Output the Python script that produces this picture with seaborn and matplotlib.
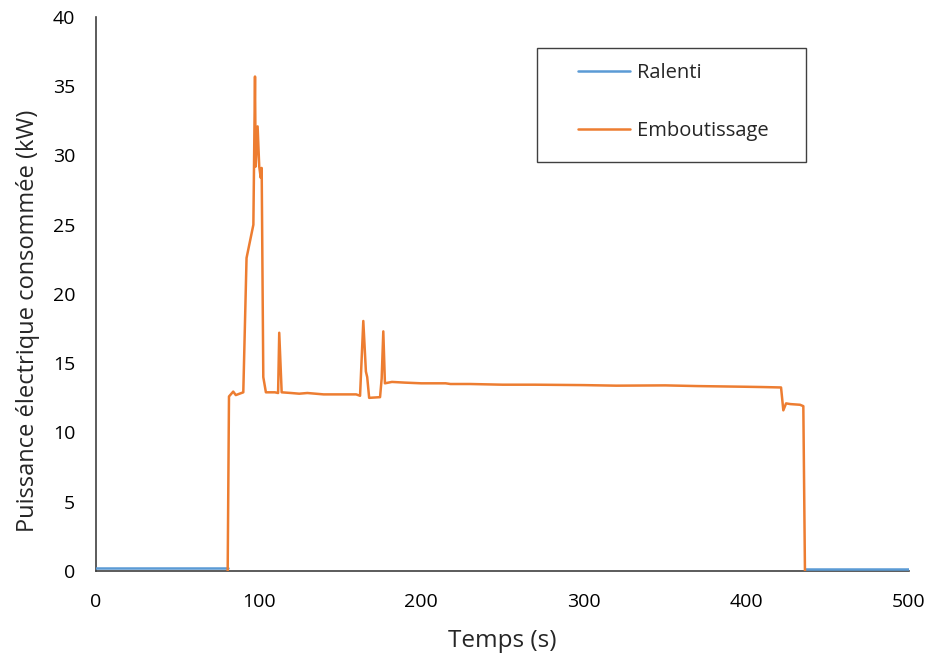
import numpy as np
import matplotlib.pyplot as plt
import seaborn as sns
import pandas as pd
from matplotlib.patches import Rectangle

# Ralenti (idle) - two segments, before and after stamping
ralenti_t1 = [0, 81]
ralenti_p1 = [0.2, 0.2]
ralenti_t2 = [436, 500]
ralenti_p2 = [0.12, 0.12]

# Emboutissage (stamping)
embout_t = [81, 81.8, 84.4, 86, 90.6, 92.6, 96.8, 97.8, 98.2, 99.4, 100.4, 101.3, 101.9,
            102.9, 104.5, 110, 112.0, 112.7, 114.2, 120, 125, 130, 140, 150, 160, 162.4,
            164.4, 166, 166.8, 168, 174.7, 175.7, 176.7, 177.7, 182, 190, 200, 215, 218,
            230, 250, 270, 300, 320, 350, 370, 400, 410, 421.3, 422.7, 424.4, 427, 433,
            435, 436]
embout_p = [0.0, 12.6, 12.95, 12.7, 12.9, 22.6, 25.0, 35.7, 29.2, 32.1, 29.2, 28.4, 29.1,
            14.0, 12.9, 12.9, 12.85, 17.2, 12.9, 12.85, 12.8, 12.85, 12.75, 12.75, 12.75, 12.65,
            18.05, 14.4, 14.0, 12.5, 12.55, 13.9, 17.3, 13.55, 13.65, 13.6, 13.55, 13.55, 13.5,
            13.5, 13.45, 13.45, 13.42, 13.38, 13.4, 13.35, 13.3, 13.28, 13.25, 11.6, 12.1, 12.05, 12.0,
            11.9, 0.0]

blue = "#5B9BD5"
orange = "#ED7D31"

ral = pd.DataFrame({
    "t": ralenti_t1 + ralenti_t2,
    "p": ralenti_p1 + ralenti_p2,
    "seg": [1, 1, 2, 2],
})
emb = pd.DataFrame({"t": embout_t, "p": embout_p})

sns.set_style("white")
plt.rcParams['font.family'] = ['Open Sans', 'DejaVu Sans']

fig = plt.figure(figsize=(9.29, 6.61), dpi=100)
ax = fig.add_axes([0.1033, 0.1362, 0.8752, 0.8381])

sns.lineplot(data=ral, x="t", y="p", units="seg", estimator=None, color=blue,
             linewidth=1.8, ax=ax, zorder=3)
sns.lineplot(data=emb, x="t", y="p", estimator=None, sort=False, color=orange,
             linewidth=1.8, ax=ax, zorder=3)

ax.set_xlim(0, 500)
ax.set_ylim(0, 40)
ax.set_xticks(range(0, 501, 100))
ax.set_yticks(range(0, 41, 5))
ax.tick_params(axis="both", labelsize=14, colors="#404040", width=1.2,
               direction="out", labelcolor="black")
ax.tick_params(axis="x", length=6, pad=10)
ax.tick_params(axis="y", length=5, pad=10)
ax.set_xlabel("Temps (s)", fontsize=17.5)
ax.set_ylabel("Puissance électrique consommée (kW)", fontsize=17)
ax.xaxis.set_label_coords(0.5, -0.105)
ax.yaxis.set_label_coords(-0.069, 0.451)

for s in ["top", "right"]:
    ax.spines[s].set_visible(False)
for s in ["left", "bottom"]:
    ax.spines[s].set_color("#404040")
    ax.spines[s].set_linewidth(1.2)

# legend box
fig.patches.append(Rectangle((0.578, 0.755), 0.2896, 0.1725, transform=fig.transFigure,
                             fill=False, edgecolor="#404040", linewidth=1.0))
handles = [plt.Line2D([], [], color=blue, lw=1.8), plt.Line2D([], [], color=orange, lw=1.8)]
ax.legend(handles, ["Ralenti", "Emboutissage"], loc="upper left",
          bbox_to_anchor=(0.622, 0.904), bbox_transform=fig.transFigure,
          fontsize=14.5, frameon=False, handlelength=2.6, handletextpad=0.35,
          labelspacing=1.85, borderpad=0, borderaxespad=0)

fig.savefig("out.png", dpi=100)
